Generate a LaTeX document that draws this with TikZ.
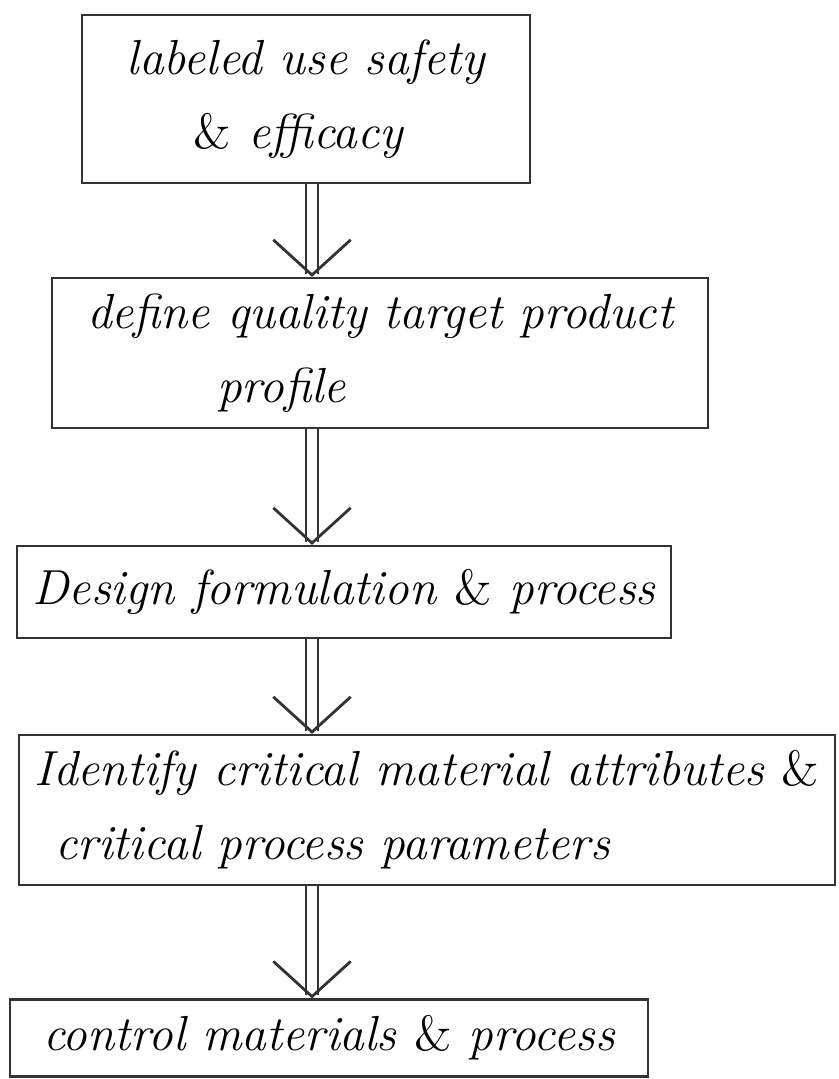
\documentclass[tikz,border=0pt]{standalone}
\usepackage{fontspec}
\usetikzlibrary{arrows.meta}
\newcommand{\amp}{\textup{\&}}
\begin{document}
\begin{tikzpicture}[x=0.01cm,y=-0.01cm,
    box/.style={draw=black!80,line width=0.6pt,inner sep=0pt,align=left,
      font=\fontsize{14}{21}\selectfont\itshape},
    flow/.style={draw=black!80,line width=0.5pt,double,double distance=3pt,
      -{Straight Barb[length=10pt,width=22pt,line width=0.8pt]}}]
  \useasboundingbox (0,0) rectangle (838,1079);
  \node[box,minimum width=4.48cm,minimum height=1.68cm] (use) at (306,99)
    {labeled use safety\\\hspace*{19pt}\amp{} efficacy};
  \node[box,minimum width=6.56cm,minimum height=1.50cm] (qtpp) at (380,353)
    {define quality target product\\\hspace*{37pt}profile};
  \node[box,minimum width=6.53cm,minimum height=0.92cm] (design) at (344,592)
    {Design formulation \amp{} process};
  \node[box,minimum width=8.15cm,minimum height=1.50cm] (crit) at (427,810)
    {Identify critical material attributes \amp\\\hspace*{6pt}critical process parameters};
  \node[box,minimum width=6.38cm,minimum height=0.77cm] (ctrl) at (329,1038)
    {control materials \amp{} process};
  \coordinate (ax) at (312,0);
  \draw [flow] (use.south -| ax) -- (qtpp.north -| ax);
  \draw [flow] (qtpp.south -| ax) -- (design.north -| ax);
  \draw [flow] (design.south -| ax) -- (crit.north -| ax);
  \draw [flow] (crit.south -| ax) -- (ctrl.north -| ax);
\end{tikzpicture}
\end{document}
